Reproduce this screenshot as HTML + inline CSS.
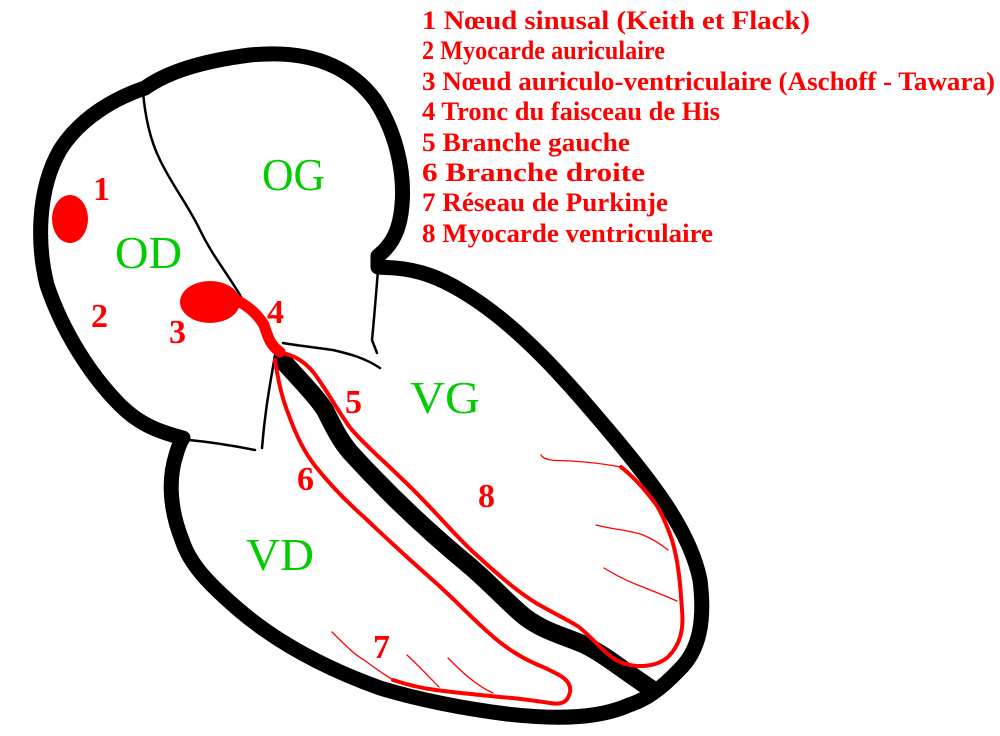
<!DOCTYPE html>
<html><head><meta charset="utf-8"><style>html,body{margin:0;padding:0;background:#fff;}svg{display:block}</style></head>
<body>
<svg width="1000" height="736" viewBox="0 0 1000 736" xmlns="http://www.w3.org/2000/svg">
<g fill="none" stroke="#000" stroke-linejoin="round" stroke-linecap="round">
<path stroke-width="15" d="M183,438 C160,432 140,425 120,405 C90,375 62,330 47,285 C37,245 37,190 60,150 C80,118 115,98 145,88 C170,70 210,60 250,55 C300,50 345,60 375,100 C395,130 405,170 402,205 C400,230 392,245 378,256 L378,267 L395,268 C420,270 440,278 460,290 C520,325 570,385 614,437 C650,480 690,530 700,580 C705,620 700,650 679,670 C660,690 645,700 629,705 C600,718 560,720 507,714 C460,708 420,700 380,688 C330,670 280,645 239,610 C210,585 190,565 182,540 C170,510 168,480 176,455 C178,448 180,442 183,438"/>
<path stroke-width="18" d="M282,360 C300,380 315,395 325,410 C335,430 340,440 350,452 C380,485 420,525 471,567 C495,588 510,605 525,617 C545,632 565,636 585,645 C605,655 620,668 650,688"/>
<g stroke-width="2.5">
<path d="M143,92 C145,115 150,140 160,160 C172,185 188,205 200,230 C212,255 225,270 240,295 C250,315 265,332 278,345"/>
<path d="M275,355 C270,385 265,410 262,448"/>
<path d="M189,440 C210,442 235,446 255,450"/>
<path d="M283,343 C300,346 320,348 333,350 C350,354 365,358 380,368"/>
<path d="M378,270 C376,295 374,320 372,340 L377,353"/>
</g>
</g>
<g fill="#f00">
<ellipse cx="70" cy="219" rx="18" ry="24"/>
<ellipse cx="210" cy="302" rx="30" ry="21"/>
</g>
<g fill="none" stroke="#f00" stroke-linejoin="round" stroke-linecap="round">
<path stroke-width="11" d="M232,298 C248,305 258,315 264,325 C268,337 270,345 280,352"/>
<path stroke-width="4" d="M278,352 C295,355 305,362 314,373 C330,395 340,415 352,430 C370,450 385,462 400,477 C430,505 450,530 471,550 C495,572 515,590 536,603 C555,614 568,620 579,627 C595,640 605,655 620,662 C635,668 655,668 668,657 C680,645 684,630 682,610 C680,580 678,560 672,540 C665,520 660,510 655,503 C645,490 635,478 621,467"/>
<path stroke-width="4" d="M275,360 C278,380 282,398 288,413 C296,435 304,452 316,467 C332,487 348,503 364,517 C388,540 412,562 436,583 C455,600 472,618 489,633 C505,648 525,660 543,667 C560,675 572,680 570,692 C568,702 562,705 550,703 C530,700 515,698 500,697 C470,694 450,692 436,690 C420,688 405,684 393,680"/>
</g>
<g fill="none" stroke="#f00" stroke-width="1.3" stroke-linecap="round">
<path d="M541,455 C545,462 560,460 571,461 C590,462 610,465 621,467"/>
<path d="M596,525 C615,530 630,530 643,535 C655,540 662,545 668,550"/>
<path d="M604,568 C620,578 632,583 643,587 C655,592 668,597 677,601"/>
<path d="M332,632 C345,645 355,655 364,660 C375,668 385,675 393,680"/>
<path d="M407,655 C418,665 430,678 439,687"/>
<path d="M448,658 C460,670 475,685 493,693"/>
</g>
<g font-family="'Liberation Serif',serif" fill="#0c0">
<text x="262" y="190" font-size="46" textLength="63" lengthAdjust="spacingAndGlyphs">OG</text>
<text x="115" y="268" font-size="46" textLength="67" lengthAdjust="spacingAndGlyphs">OD</text>
<text x="410" y="413" font-size="46" textLength="70" lengthAdjust="spacingAndGlyphs">VG</text>
<text x="246" y="570" font-size="46" textLength="68" lengthAdjust="spacingAndGlyphs">VD</text>
</g>
<g font-family="'Liberation Serif',serif" fill="#f00" font-size="34" font-weight="bold">
<text x="93" y="200">1</text>
<text x="91" y="327">2</text>
<text x="169" y="343">3</text>
<text x="267" y="323">4</text>
<text x="345" y="413">5</text>
<text x="297" y="490">6</text>
<text x="373" y="658">7</text>
<text x="478" y="507">8</text>
</g>
<g font-family="'Liberation Serif',serif" fill="#f00" font-size="26" font-weight="bold">
<text x="422" y="29" textLength="388" lengthAdjust="spacingAndGlyphs">1  Nœud sinusal (Keith et Flack)</text>
<text x="422" y="59" textLength="243" lengthAdjust="spacingAndGlyphs">2  Myocarde auriculaire</text>
<text x="422" y="90" textLength="573" lengthAdjust="spacingAndGlyphs">3  Nœud auriculo-ventriculaire (Aschoff - Tawara)</text>
<text x="422" y="120" textLength="298" lengthAdjust="spacingAndGlyphs">4 Tronc du faisceau de His</text>
<text x="422" y="151" textLength="208" lengthAdjust="spacingAndGlyphs">5  Branche gauche</text>
<text x="422" y="181" textLength="223" lengthAdjust="spacingAndGlyphs">6  Branche droite</text>
<text x="422" y="211" textLength="246" lengthAdjust="spacingAndGlyphs">7  Réseau de Purkinje</text>
<text x="422" y="242" textLength="291" lengthAdjust="spacingAndGlyphs">8  Myocarde ventriculaire</text>
</g>
</svg>
</body></html>
